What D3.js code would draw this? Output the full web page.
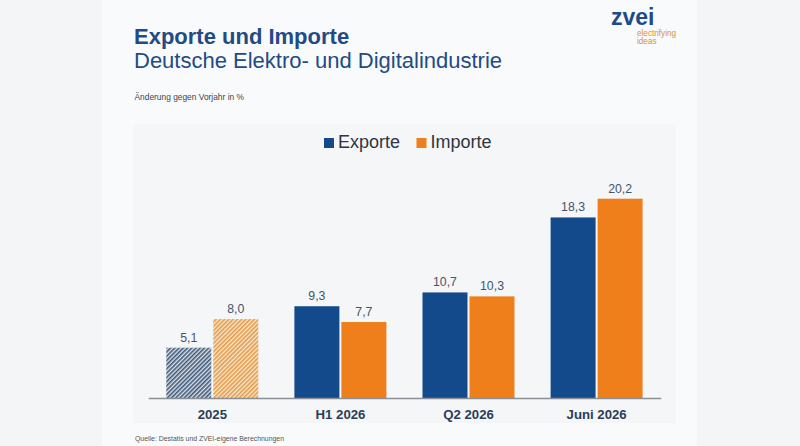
<!DOCTYPE html>
<html>
<head>
<meta charset="utf-8">
<script src="https://cdn.jsdelivr.net/npm/d3@7"></script>
<style>
  body { margin: 0; background: #f4f5f7; }
  svg { display: block; font-family: "Liberation Sans", Arial, sans-serif; }
</style>
</head>
<body>
<div id="chart"></div>
<script>
// --- data ---
const categories = ["2025", "H1 2026", "Q2 2026", "Juni 2026"];
const series = ["Exporte", "Importe"];
const exporte = [5.1, 9.3, 10.7, 18.3];
const importe = [8.0, 7.7, 10.3, 20.2];
const hatched = ["2025"];

const width = 800, height = 446;
const colors = { Exporte: "#134a8b", Importe: "#ee7f1b" };
const fmt = v => v.toFixed(1).replace(".", ",");

const svg = d3.select("#chart").append("svg")
  .attr("width", width)
  .attr("height", height);

// hatch patterns for preliminary values
const defs = svg.append("defs");
function hatch(id, bg, fg) {
  const p = defs.append("pattern")
    .attr("id", id)
    .attr("patternUnits", "userSpaceOnUse")
    .attr("width", 3).attr("height", 3)
    .attr("patternTransform", "rotate(45)");
  p.append("rect").attr("width", 3).attr("height", 3).attr("fill", bg);
  p.append("rect").attr("width", 1.6).attr("height", 3).attr("fill", fg);
}
hatch("hatch-Exporte", "#dfe3ea", "#3d5878");
hatch("hatch-Importe", "#fbe8cf", "#e29a48");

// slide + panel backgrounds
svg.append("rect").attr("x", 102).attr("y", 0).attr("width", 595).attr("height", height).attr("fill", "#f9fafb");
svg.append("rect").attr("x", 133).attr("y", 124).attr("width", 543).attr("height", 299).attr("fill", "#f5f6f8");

// titles
svg.append("text").attr("x", 134).attr("y", 44)
  .attr("font-size", 22).attr("font-weight", "bold").attr("fill", "#224b86")
  .text("Exporte und Importe");
svg.append("text").attr("x", 134).attr("y", 68)
  .attr("font-size", 22).attr("fill", "#224b86")
  .text("Deutsche Elektro- und Digitalindustrie");
svg.append("text").attr("x", 134.5).attr("y", 100)
  .attr("font-size", 8.4).attr("fill", "#444")
  .text("Änderung gegen Vorjahr in %");
svg.append("text").attr("x", 135).attr("y", 441)
  .attr("font-size", 6.9).attr("fill", "#555")
  .text("Quelle: Destatis und ZVEI-eigene Berechnungen");

// logo
svg.append("text").attr("x", 611).attr("y", 25)
  .attr("font-size", 23).attr("font-weight", "bold").attr("fill", "#1e4a8a")
  .text("zvei");
svg.append("text").attr("x", 637).attr("y", 36)
  .attr("font-size", 8.2).attr("fill", "#d8913a").text("electrifying");
svg.append("text").attr("x", 637).attr("y", 44)
  .attr("font-size", 8.2).attr("fill", "#d8913a").text("ideas");

// legend
const legend = svg.append("g").attr("transform", "translate(324,0)");
const legendX = [0, 92.5];
series.forEach((s, i) => {
  legend.append("rect").attr("x", legendX[i]).attr("y", 138).attr("width", 10).attr("height", 10)
    .attr("fill", colors[s]);
  legend.append("text").attr("x", legendX[i] + 14).attr("y", 148)
    .attr("font-size", 18).attr("fill", "#2e3540")
    .text(s);
});

// scales
const x0 = d3.scaleBand().domain(categories).range([148.3, 660.7]).padding(0);
const x1 = d3.scaleBand().domain(series).range([18, 110]).paddingInner(0.043);
const y = d3.scaleLinear().domain([0, 20.2]).range([398, 198.7]);

const rows = categories.map((c, i) => ({ cat: c, Exporte: exporte[i], Importe: importe[i] }));

const groups = svg.append("g").selectAll("g")
  .data(rows)
  .join("g")
  .attr("transform", d => `translate(${x0(d.cat)},0)`);

groups.selectAll("rect")
  .data(d => series.map(s => ({ cat: d.cat, key: s, value: d[s] })))
  .join("rect")
  .attr("x", d => x1(d.key))
  .attr("y", d => y(d.value))
  .attr("width", x1.bandwidth())
  .attr("height", d => y(0) - y(d.value))
  .attr("fill", d => hatched.includes(d.cat) ? `url(#hatch-${d.key})` : colors[d.key]);

groups.selectAll("text.val")
  .data(d => series.map(s => ({ cat: d.cat, key: s, value: d[s] })))
  .join("text")
  .attr("class", "val")
  .attr("x", d => x1(d.key) + x1.bandwidth() / 2)
  .attr("y", d => y(d.value) - 6)
  .attr("text-anchor", "middle")
  .attr("font-size", 12.3)
  .attr("fill", "#44546a")
  .text(d => fmt(d.value));

// x axis
const xAxis = svg.append("g")
  .attr("transform", `translate(0,${y(0)})`)
  .call(d3.axisBottom(x0).tickSize(0).tickPadding(12));
xAxis.select(".domain").attr("stroke", "#8a8f96").attr("stroke-width", 1.5);
xAxis.selectAll("text")
  .attr("font-size", 13.2)
  .attr("font-weight", "bold")
  .attr("font-family", "Liberation Sans, Arial, sans-serif")
  .attr("fill", "#2b3d57");
</script>
</body>
</html>
